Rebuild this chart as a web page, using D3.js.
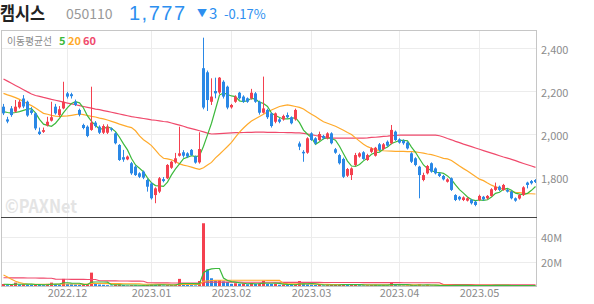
<!DOCTYPE html>
<html>
<head>
<meta charset="utf-8">
<script src="https://cdn.jsdelivr.net/npm/d3@7"></script>
<style>
  body { margin: 0; background: #fff; }
  svg { display: block; font-family: "Noto Sans CJK KR", "Noto Sans", sans-serif; }
</style>
</head>
<body>
<div id="chart"></div>
<script>
// daily candles, 2022-11 .. 2023-05 (price in won, volume in millions)
const opens = [2127,2068,2119,2104,2124,2165,2150,2110,2096,2011, 2010,2040,2062,2127,2088,2119,2189,2185,2150,2112,
  2042,2034,2019,2053,2034,2006,2006,2026,2003,1949, 1892,1882,1864,1848,1817,1825,1786,1770,1716,1732,
  1790,1794,1843,1868,1899,1915,1910,1926,1895,1868, 2306,2287,2150,2200,2193,2243,2220,2124,2150,2192,
  2174,2166,2166,2189,2150,2099,2112,2096,2057,2068, 2068,2088,2078,2068,1956,1917,1913,2003,1980,1972,
  1991,1980,2003,1929,1902,1884,1806,1809,1856,1895, 1915,1879,1917,1899,1952,1930,1964,1957,2011,1975,
  1969,1960,1910,1887,1848,1786,1817,1864,1840,1817, 1805,1778,1794,1716,1708,1693,1690,1693,1685,1693,
  1708,1701,1712,1740,1755,1740,1740,1732,1701,1700, 1716,1774,1781,1786];
const highs = [2140,2080,2130,2158,2158,2181,2155,2125,2100,2030, 2030,2080,2150,2140,2130,2243,2196,2192,2160,2118,
  2048,2040,2220,2060,2040,2045,2045,2030,2008,1953, 1926,1900,1870,1855,1822,1830,1792,1775,1752,1800,
  1800,1860,1875,1912,2034,1925,1915,1930,1900,2008, 2448,2295,2259,2262,2265,2250,2225,2140,2180,2196,
  2180,2170,2210,2195,2155,2267,2118,2100,2100,2075, 2090,2100,2082,2118,1965,1925,1985,2008,1985,2011,
  1996,2008,2008,1935,1908,1890,1842,1845,1912,1915, 1920,1908,1938,1940,1958,1958,1970,2042,2016,1980,
  1975,1965,1915,1892,1852,1820,1856,1868,1845,1822, 1810,1794,1798,1720,1712,1710,1706,1698,1690,1718,
  1712,1716,1748,1774,1760,1768,1745,1736,1705,1720, 1757,1778,1786,1790];
const lows = [2088,2050,2080,2100,2118,2120,2080,2090,2018,1995, 2005,2035,2058,2090,2080,2115,2165,2165,2130,2082,
  2022,1985,2015,2030,2000,2000,2000,2012,1952,1875, 1871,1878,1810,1805,1795,1790,1732,1695,1678,1725,
  1775,1790,1838,1862,1895,1890,1888,1898,1862,1862, 2115,2107,2135,2166,2185,2165,2115,2118,2145,2160,
  2145,2145,2160,2145,2090,2095,2070,2030,2050,2050, 2062,2072,2045,2062,1925,1871,1908,1968,1950,1968,
  1975,1975,1952,1908,1858,1795,1800,1786,1850,1890, 1880,1875,1912,1895,1920,1925,1940,1952,1968,1955,
  1950,1928,1865,1850,1701,1780,1812,1820,1812,1800, 1784,1774,1735,1688,1690,1688,1686,1672,1664,1688,
  1690,1696,1708,1735,1735,1736,1728,1696,1685,1695, 1712,1747,1765,1772];
const closes = [2096,2058,2088,2127,2150,2128,2086,2098,2026,2000, 2018,2057,2078,2096,2115,2150,2174,2176,2135,2090,
  2028,1991,2053,2037,2006,2037,2034,2020,1957,1879, 1881,1895,1817,1809,1801,1797,1755,1701,1747,1794,
  1781,1856,1871,1887,1910,1899,1895,1902,1867,1930, 2123,2158,2174,2189,2262,2174,2123,2135,2174,2166,
  2150,2150,2192,2150,2099,2119,2078,2037,2096,2057, 2084,2078,2050,2112,1941,1910,1980,1972,1957,2000,
  1980,2003,1957,1913,1864,1801,1837,1840,1902,1910, 1884,1902,1933,1936,1926,1952,1946,2019,1972,1960,
  1957,1933,1871,1856,1809,1809,1851,1825,1817,1805, 1789,1789,1740,1693,1696,1705,1701,1678,1670,1712,
  1696,1712,1743,1755,1740,1763,1732,1701,1690,1716, 1752,1763,1771,1777];
const volumes = [2.4,1.5,1.8,3.5,2.0,2.2,2.0,1.6,2.2,1.8, 1.5,2.5,3.5,2.4,2.0,6.5,2.5,2.2,2.0,1.8,
  2.0,2.2,11.5,2.5,2.0,1.8,1.5,1.2,1.8,2.0, 1.6,1.2,1.5,1.4,1.2,1.3,1.6,1.8,1.7,1.9,
  1.2,1.5,1.6,1.8,6.5,2.5,1.8,1.5,1.3,4.8, 51,14,7,5,5.5,4.5,4,2.5,3,2.5,
  2.8,2.2,3.2,2.5,2.8,5,2.5,2.4,2.6,1.8, 2.0,1.8,1.6,2.0,4.8,2.5,2.2,1.8,1.6,1.8,
  1.3,1.5,1.6,1.8,2.0,2.4,1.6,1.8,2.2,1.5, 1.3,1.4,1.6,1.8,1.4,1.5,1.3,3.5,2.0,1.4,
  1.2,1.3,1.8,1.5,2.2,1.4,1.6,1.3,1.1,1.0, 1.2,0.9,1.6,1.8,1.2,1.0,0.9,1.0,1.2,1.4,
  1.0,1.1,1.5,1.4,1.1,1.3,1.0,1.2,1.0,1.1, 1.6,1.3,1.1,0.9];

// moving averages as printed on the chart
const ma5 = [2104,2100,2097,2100,2104,2110,2116,2118,2098,2068, 2046,2040,2036,2050,2073,2099,2123,2142,2150,2145,
  2121,2084,2059,2040,2023,2025,2033,2027,2011,1985, 1954,1926,1886,1856,1841,1824,1796,1773,1760,1759,
  1756,1776,1810,1838,1861,1885,1892,1899,1895,1899, 1943,1996,2050,2115,2181,2191,2184,2177,2174,2154,
  2150,2155,2166,2162,2148,2142,2128,2097,2086,2077, 2070,2070,2073,2076,2053,2018,1999,1983,1952,1964,
  1978,1982,1979,1971,1943,1908,1874,1851,1849,1858, 1875,1888,1906,1913,1916,1930,1939,1956,1963,1970,
  1971,1968,1939,1915,1885,1856,1839,1830,1822,1821, 1817,1805,1788,1763,1741,1725,1707,1695,1690,1693,
  1691,1694,1707,1724,1729,1743,1747,1738,1725,1720, 1718,1724,1738,1756];
const ma20 = [2189,2182,2176,2169,2161,2151,2141,2132,2121,2108, 2096,2092,2087,2083,2082,2083,2084,2087,2090,2093,
  2090,2086,2082,2079,2074,2070,2065,2059,2053,2046, 2040,2034,2030,2015,1991,1973,1960,1946,1925,1903,
  1887,1884,1880,1872,1861,1855,1851,1846,1840,1836, 1843,1856,1868,1889,1906,1924,1942,1961,1985,2009,
  2028,2045,2060,2071,2081,2092,2102,2112,2120,2128, 2132,2135,2132,2128,2124,2116,2103,2092,2081,2069,
  2057,2050,2043,2036,2027,2017,2007,1998,1982,1967, 1952,1941,1934,1926,1924,1922,1921,1920,1919,1919,
  1919,1918,1918,1917,1914,1911,1907,1904,1899,1893, 1887,1884,1877,1864,1851,1839,1828,1815,1802,1790,
  1783,1772,1762,1754,1748,1743,1737,1732,1729,1727, 1725,1723,1722,1721];
const ma60 = [2256,2246,2236,2226,2216,2206,2196,2186,2179,2175, 2170,2166,2161,2157,2153,2148,2144,2140,2136,2132,
  2128,2124,2120,2116,2113,2109,2105,2101,2097,2093, 2089,2085,2081,2078,2075,2072,2069,2066,2064,2061,
  2058,2056,2051,2046,2041,2036,2030,2025,2020,2015, 2010,2004,2000,2001,2002,2003,2004,2005,2006,2006,
  2007,2008,2008,2009,2009,2009,2008,2008,2008,2007, 2007,2006,2006,2005,2005,2003,2000,1997,1993,1990,
  1987,1984,1981,1981,1981,1981,1981,1981,1981,1981, 1981,1982,1984,1985,1987,1989,1990,1992,1993,1995,
  1995,1995,1995,1995,1995,1995,1995,1995,1995,1992, 1986,1979,1973,1966,1960,1953,1947,1941,1935,1929,
  1923,1917,1911,1905,1899,1893,1888,1882,1876,1869, 1863,1857,1851,1845];
const volMa5 = [2.2,2.1,2.0,2.3,2.2,2.2,2.3,2.3,2.0,1.9, 1.8,1.9,2.2,2.3,2.4,3.4,3.4,3.1,3.0,3.0,
  2.1,2.0,3.9,4.0,4.0,4.0,3.9,1.8,1.8,1.7, 1.6,1.6,1.6,1.5,1.4,1.3,1.4,1.5,1.5,1.7,
  1.7,1.6,1.6,1.6,2.5,2.8,2.8,2.8,2.7,2.5, 11.5,13.5,14.5,14.8,14.8,7.2,5.2,4.3,3.9,3.3,
  3.0,2.6,2.7,2.6,2.7,3.1,3.0,3.0,3.1,2.9, 2.3,2.1,2.0,1.8,2.4,2.5,2.6,2.7,2.6,2.0,
  1.7,1.6,1.6,1.6,1.7,1.9,1.9,1.9,2.0,1.9, 1.7,1.6,1.6,1.5,1.5,1.5,1.5,1.9,1.9,1.9,
  1.9,1.9,1.5,1.4,1.6,1.6,1.7,1.6,1.5,1.3, 1.2,1.1,1.2,1.3,1.3,1.3,1.3,1.2,1.1,1.1,
  1.1,1.1,1.2,1.3,1.3,1.3,1.3,1.2,1.1,1.1, 1.2,1.2,1.2,1.2];
const volMa20 = [9.6,8.0,6.2,4.6,3.5,2.8,2.4,2.2,2.2,2.2, 2.1,2.1,2.2,2.2,2.2,2.4,2.4,2.4,2.4,2.3,
  2.3,2.3,2.8,2.8,2.8,2.8,2.7,2.7,2.7,2.7, 2.6,2.6,2.6,2.6,2.5,2.2,2.2,2.2,2.2,2.2,
  2.2,2.2,1.7,1.7,2.0,2.0,2.0,2.0,2.0,2.1, 4.6,5.0,5.2,5.3,5.4,5.4,5.4,5.4,5.4,5.4,
  5.4,5.4,5.4,5.4,5.4,5.4,5.3,5.3,5.3,5.3, 2.9,2.7,2.6,2.5,2.5,2.5,2.4,2.4,2.3,2.3,
  2.2,2.1,2.0,2.0,2.0,2.0,2.0,2.0,2.0,1.9, 1.9,1.8,1.8,1.8,1.8,1.8,1.7,1.8,1.8,1.7,
  1.7,1.7,1.7,1.7,1.7,1.6,1.6,1.6,1.5,1.5, 1.5,1.5,1.4,1.4,1.4,1.4,1.4,1.3,1.3,1.3,
  1.3,1.3,1.3,1.3,1.3,1.3,1.3,1.2,1.2,1.2, 1.2,1.2,1.2,1.2];
const volMa60 = [7.4,7.4,7.3,7.3,7.3,7.3,7.2,7.2,7.2,7.1, 7.1,7.0,7.0,6.3,6.2,6.2,6.2,6.1,6.1,6.1,
  6.1,6.0,6.0,6.0,5.0,5.0,4.9,4.9,4.9,4.8, 4.8,4.8,4.7,4.7,4.7,4.6,3.4,3.4,3.3,3.3,
  3.3,3.3,3.2,3.2,3.2,3.2,3.2,3.1,3.1,3.1, 3.9,3.9,3.9,3.9,3.9,3.9,3.9,3.9,3.9,3.9,
  3.8,3.8,3.8,3.8,3.8,3.8,3.8,3.8,3.8,3.8, 3.7,3.7,3.7,3.7,3.7,3.7,3.7,3.7,3.7,3.7,
  3.6,3.6,3.6,3.6,3.6,3.6,3.6,3.6,3.6,3.6, 3.5,3.5,3.5,3.5,3.5,3.5,3.5,3.5,3.5,3.5,
  3.4,3.4,3.4,3.4,3.4,3.4,3.4,3.4,3.4,3.4, 1.9,1.9,1.9,1.9,1.9,1.9,1.9,1.9,1.8,1.8,
  1.8,1.8,1.8,1.8,1.8,1.8,1.7,1.7,1.7,1.7, 1.7,1.7,1.7,1.7];

const monthIdx = [16, 37, 57, 77, 99, 119];
const monthLabels = ["2022.12", "2023.01", "2023.02", "2023.03", "2023.04", "2023.05"];
const priceTicks = [1800, 2000, 2200, 2400];
const volTicks = [20, 40];

const UP = "#f4404f", DOWN = "#2a88e6";
const C5 = "#3cb93c", C20 = "#ffaa2b", C60 = "#f04a6c";
const L = 1, R = 537, TOP = 30, SEP = 217, BOT = 287;

const svg = d3.select("#chart").append("svg")
    .attr("width", 594)
    .attr("height", 304);

let x = d3.scaleLinear().domain([0, closes.length - 1]).range([3, 535]);
let y = d3.scaleLinear().domain([1800, 2400]).range([177, 48]);
let yv = d3.scaleLinear().domain([0, 40]).range([BOT, 237]);

// header
let head = svg.append("g");
head.append("text").attr("x", 0).attr("y", 20)
    .attr("font-size", 18).attr("font-weight", "bold").attr("fill", "#222")
    .attr("textLength", 45).attr("lengthAdjust", "spacingAndGlyphs")
    .text("캠시스");
head.append("text").attr("x", 66).attr("y", 19)
    .attr("font-size", 14).attr("fill", "#999").text("050110");
head.append("text").attr("x", 129).attr("y", 20)
    .attr("font-family", "'Liberation Sans', Arial, sans-serif")
    .attr("font-size", 20).attr("fill", "#2d8ff0")
    .attr("textLength", 56).text("1,777");
head.append("text").attr("x", 197).attr("y", 17)
    .attr("font-size", 10).attr("fill", "#2d8ff0").text("▼");
head.append("text").attr("x", 209).attr("y", 19)
    .attr("font-size", 15).attr("fill", "#2d8ff0").text("3");
head.append("text").attr("x", 224).attr("y", 19)
    .attr("font-size", 13).attr("fill", "#2d8ff0").text("-0.17%");

// grid
svg.append("g").selectAll("line").data(priceTicks).enter().append("line")
    .attr("x1", L).attr("x2", R)
    .attr("y1", (d) => Math.round(y(d)) + 0.5).attr("y2", (d) => Math.round(y(d)) + 0.5)
    .attr("stroke", "#ececec");
svg.append("g").selectAll("line").data(volTicks).enter().append("line")
    .attr("x1", L).attr("x2", R)
    .attr("y1", (d) => Math.round(yv(d)) + 0.5).attr("y2", (d) => Math.round(yv(d)) + 0.5)
    .attr("stroke", "#ececec");
svg.append("g").selectAll("line").data(monthIdx).enter().append("line")
    .attr("x1", (d) => x(d) + 0.5).attr("x2", (d) => x(d) + 0.5)
    .attr("y1", TOP).attr("y2", BOT)
    .attr("stroke", "#ececec");

// watermark
svg.append("text").attr("x", 5).attr("y", 213)
    .attr("font-size", 18).attr("font-weight", "bold").attr("fill", "#e4e4e4")
    .attr("textLength", 72).attr("lengthAdjust", "spacingAndGlyphs")
    .text("©PAXNet");

// legend
let lg = svg.append("g").attr("font-size", 11);
lg.append("text").attr("x", 7).attr("y", 45).attr("fill", "#8a8a8a")
    .attr("font-size", 10.5)
    .attr("textLength", 45).attr("lengthAdjust", "spacingAndGlyphs")
    .text("이동평균선");
lg.append("text").attr("x", 59).attr("y", 45).attr("fill", C5).attr("font-weight", "bold").text("5");
lg.append("text").attr("x", 68).attr("y", 45).attr("fill", C20).attr("font-weight", "bold").text("20");
lg.append("text").attr("x", 83).attr("y", 45).attr("fill", C60).attr("font-weight", "bold").text("60");

svg.append("clipPath").attr("id", "pc").append("rect")
    .attr("x", L).attr("y", TOP).attr("width", R - L).attr("height", SEP - TOP);

let price = svg.append("g").attr("clip-path", "url(#pc)");
let idx = d3.range(closes.length);
let color = (i) => closes[i] >= opens[i] ? UP : DOWN;

let line = (sc) => d3.line().x((d, i) => x(i) + 0.5).y((d) => sc(d));
[[ma60, C60], [ma20, C20], [ma5, C5]].forEach(([arr, c]) => {
  price.append("path").datum(arr)
      .attr("d", line(y))
      .attr("fill", "none").attr("stroke", c).attr("stroke-width", 1.2);
});

price.selectAll(".wick").data(idx).enter().append("line")
    .attr("x1", (i) => x(i) + 0.5).attr("x2", (i) => x(i) + 0.5)
    .attr("y1", (i) => y(highs[i])).attr("y2", (i) => y(lows[i]))
    .attr("stroke", color);
price.selectAll(".body").data(idx).enter().append("rect")
    .attr("x", (i) => x(i) - 1)
    .attr("width", 3)
    .attr("y", (i) => y(Math.max(opens[i], closes[i])))
    .attr("height", (i) => Math.max(1, Math.abs(y(opens[i]) - y(closes[i]))))
    .attr("fill", color);

// volume
let vol = svg.append("g");
vol.selectAll("rect").data(idx).enter().append("rect")
    .attr("x", (i) => x(i) - 1)
    .attr("width", 3)
    .attr("y", (i) => yv(volumes[i]))
    .attr("height", (i) => BOT - yv(volumes[i]))
    .attr("fill", (i) => (i === 0 || volumes[i] >= volumes[i - 1]) ? UP : DOWN);
[[volMa60, C60], [volMa20, C20], [volMa5, C5]].forEach(([arr, c]) => {
  vol.append("path").datum(arr)
      .attr("d", line(yv))
      .attr("fill", "none").attr("stroke", c).attr("stroke-width", 1.2);
});

// frame
svg.append("rect").attr("x", L + 0.5).attr("y", TOP + 0.5)
    .attr("width", R - L - 1).attr("height", BOT - TOP - 1)
    .attr("fill", "none").attr("stroke", "#c6c6c6");
svg.append("line").attr("x1", L).attr("x2", R)
    .attr("y1", SEP + 0.5).attr("y2", SEP + 0.5)
    .attr("stroke", "#444");

// axes
let style = (g) => {
  g.select(".domain").remove();
  g.selectAll("text").attr("fill", "#8c8c8c").attr("font-size", 11)
      .attr("font-family", "\"Noto Sans CJK KR\", \"Noto Sans\", sans-serif");
};
svg.append("g").attr("transform", "translate(541,2)")
    .call(d3.axisRight(y).tickValues(priceTicks).tickFormat(d3.format(",")).tickSize(0).tickPadding(0))
    .call(style);
svg.append("g").attr("transform", "translate(541,1)")
    .call(d3.axisRight(yv).tickValues(volTicks).tickFormat((d) => d + "M").tickSize(0).tickPadding(0))
    .call(style);
svg.append("g").attr("transform", `translate(0, ${ BOT })`)
    .call(d3.axisBottom(x).tickValues(monthIdx).tickFormat((d, i) => monthLabels[i]).tickSize(0).tickPadding(2))
    .call(style);
</script>
</body>
</html>
